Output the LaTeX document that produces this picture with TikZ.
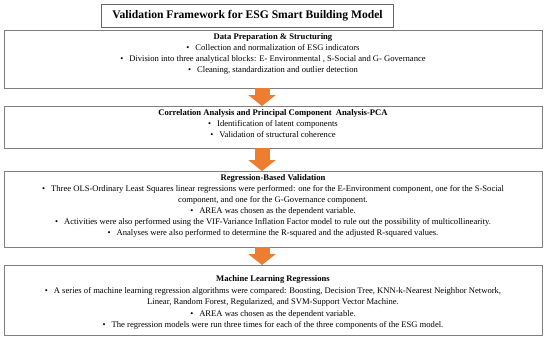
\documentclass[tikz,border=0pt]{standalone}
\usepackage{fontspec}
\setmainfont{Liberation Serif}
\usetikzlibrary{arrows.meta}
\definecolor{framegray}{RGB}{127,127,127}
\definecolor{flowora}{RGB}{237,125,49}
\tikzset{
  frame/.style={draw=framegray,line width=0.8pt,minimum width=538pt,anchor=north west,inner sep=0pt},
  txt/.style={anchor=north,align=center,inner sep=0pt,font=\fontsize{8.6}{11}\selectfont},
  flow/.style={flowora,line width=15pt,-{Triangle[width=27pt,length=11pt]}}
}
\newcommand{\bul}{\textbullet\hspace{6pt}}

\begin{document}
\begin{tikzpicture}[x=1pt,y=-1pt]
  \useasboundingbox (0,0) rectangle (550,338);
  % title
  \node[draw=framegray!80!black,line width=1pt,minimum width=292pt,minimum height=23pt,anchor=north west,inner sep=0pt]
    (title) at (101,4) {\fontsize{11.6}{12}\selectfont\bfseries Validation Framework for ESG Smart Building Model};
  % boxes
  \node[frame,minimum height=58pt] (prep) at (4,30) {};
  \node[frame,minimum height=42pt] (corr) at (4,106) {};
  \node[frame,minimum height=76pt] (regr) at (4,171) {};
  \node[frame,minimum height=70pt] (mlreg) at (4,265) {};
  % texts
  \node[txt] (preptxt) at (273,33.5) {\textbf{Data Preparation \& Structuring}\\
    \bul Collection and normalization of ESG indicators\\
    \bul Division into three analytical blocks: E- Environmental , S-Social and G- Governance\\
    \bul Cleaning, standardization and outlier detection};
  \node[txt] (corrtxt) at (273,109.5) {\textbf{Correlation Analysis and Principal Component~ Analysis-PCA}\\
    \bul Identification of latent components\\
    \bul Validation of structural coherence};
  \node[txt] (regrtxt) at (273,174) {\textbf{Regression-Based Validation}\\
    \bul Three OLS-Ordinary Least Squares linear regressions were performed: one for the E-Environment component, one for the S-Social\\
    component, and one for the G-Governance component.\\
    \bul AREA was chosen as the dependent variable.\\
    \bul Activities were also performed using the VIF-Variance Inflation Factor model to rule out the possibility of multicollinearity.\\
    \bul Analyses were also performed to determine the R-squared and the adjusted R-squared values.};
  \node[txt,font=\fontsize{8.6}{11.5}\selectfont] (mlregtxt) at (273,275.5) {\textbf{Machine Learning Regressions}\\
    \bul A series of machine learning regression algorithms were compared: Boosting, Decision Tree, KNN-k-Nearest Neighbor Network,\\
    Linear, Random Forest, Regularized, and SVM-Support Vector Machine.\\
    \bul AREA was chosen as the dependent variable.\\
    \bul The regression models were run three times for each of the three components of the ESG model.};
  % arrows
  \coordinate (a1) at (262,88);
  \coordinate (a2) at (262,148);
  \coordinate (a3) at (262,247);
  \draw[flow] (a1) -- (a1 |- corr.north);
  \draw[flow] (a2) -- (a2 |- regr.north);
  \draw[flow] (a3) -- (a3 |- mlreg.north);
\end{tikzpicture}
\end{document}
